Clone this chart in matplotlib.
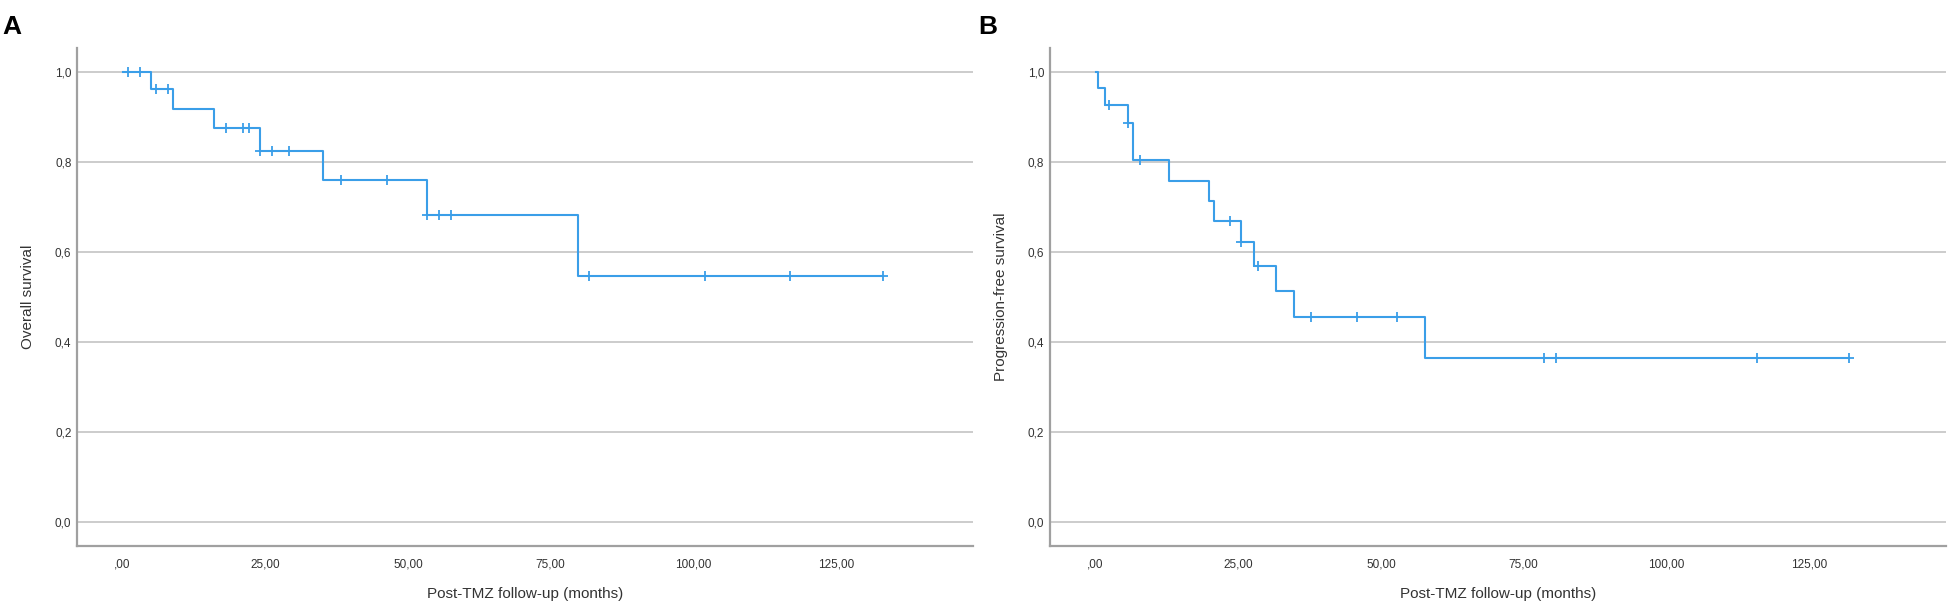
import numpy as np
import matplotlib
matplotlib.use('Agg')
import matplotlib.pyplot as plt

plt.rcParams['font.family'] = ['Liberation Sans', 'DejaVu Sans']

# panel A - overall survival (step times, survival levels, censored times)
tiempoA = [0, 4.9, 8.9, 16.0, 24.1, 35.1, 53.3, 79.8]
survA = [1.0, 0.962, 0.918, 0.874, 0.823, 0.759, 0.683, 0.547]
censA = [0.9, 3.0, 5.9, 8.0, 18.1, 21.1, 22.1, 24.1, 26.2, 29.2, 38.2, 46.3,
         53.3, 55.4, 57.5, 81.8, 102.0, 117.0, 133.3]

# panel B - progression-free survival
tiempoB = [0, 0.5, 1.6, 5.6, 6.6, 12.9, 19.8, 20.7, 25.5, 27.8, 31.6, 34.8, 57.7]
survB = [1.0, 0.963, 0.926, 0.887, 0.804, 0.758, 0.713, 0.669, 0.622, 0.569,
         0.513, 0.456, 0.365]
censB = [2.4, 5.6, 7.7, 23.6, 25.5, 28.5, 37.8, 45.8, 52.8, 78.5, 80.6, 115.9, 132.0]

xticks = [0, 25, 50, 75, 100, 125]
xlabels = [',00', '25,00', '50,00', '75,00', '100,00', '125,00']
yticks = [0.0, 0.2, 0.4, 0.6, 0.8, 1.0]
ylabels = ['0,0', '0,2', '0,4', '0,6', '0,8', '1,0']

azul = '#3a9ee8'

fig = plt.figure(figsize=(19.49, 6.06), dpi=100)
axA = fig.add_axes([0.0395, 0.099, 0.4597, 0.822])
axB = fig.add_axes([0.5387, 0.099, 0.4597, 0.822])


def dibujar(ax, t, s, cens, ylab):
    t = np.array(t)
    s = np.array(s)
    fin = max(cens)
    ax.step(np.append(t, fin), np.append(s, s[-1]), where='post', color=azul, lw=1.5)
    idx = np.searchsorted(t, cens, side='right') - 1
    ax.plot(cens, s[idx], ls='none', marker='+', ms=7, mew=1.3, color=azul)
    ax.set_xlim(-8, 149)
    ax.set_ylim(-0.053, 1.053)
    ax.set_xticks(xticks)
    ax.set_xticklabels(xlabels)
    ax.set_yticks(yticks)
    ax.set_yticklabels(ylabels)
    ax.tick_params(length=0, labelsize=8.5, colors='#333333')
    ax.tick_params(axis='x', pad=9)
    ax.tick_params(axis='y', pad=4)
    ax.grid(axis='y', color='#c8c8c8', lw=1.3)
    ax.set_axisbelow(True)
    for lado in ['top', 'right']:
        ax.spines[lado].set_visible(False)
    for lado in ['left', 'bottom']:
        ax.spines[lado].set_color('#a0a0a0')
        ax.spines[lado].set_linewidth(1.6)
    ax.set_xlabel('Post-TMZ follow-up (months)', fontsize=11, color='#333333', labelpad=12)
    ax.set_ylabel(ylab, fontsize=11, color='#333333', labelpad=14)


dibujar(axA, tiempoA, survA, censA, 'Overall survival')
dibujar(axB, tiempoB, survB, censB, 'Progression-free survival')

fig.text(0.001, 0.975, 'A', fontsize=19, fontweight='bold', va='top', ha='left')
fig.text(0.502, 0.975, 'B', fontsize=19, fontweight='bold', va='top', ha='left')

plt.savefig('out.png', dpi=100)
